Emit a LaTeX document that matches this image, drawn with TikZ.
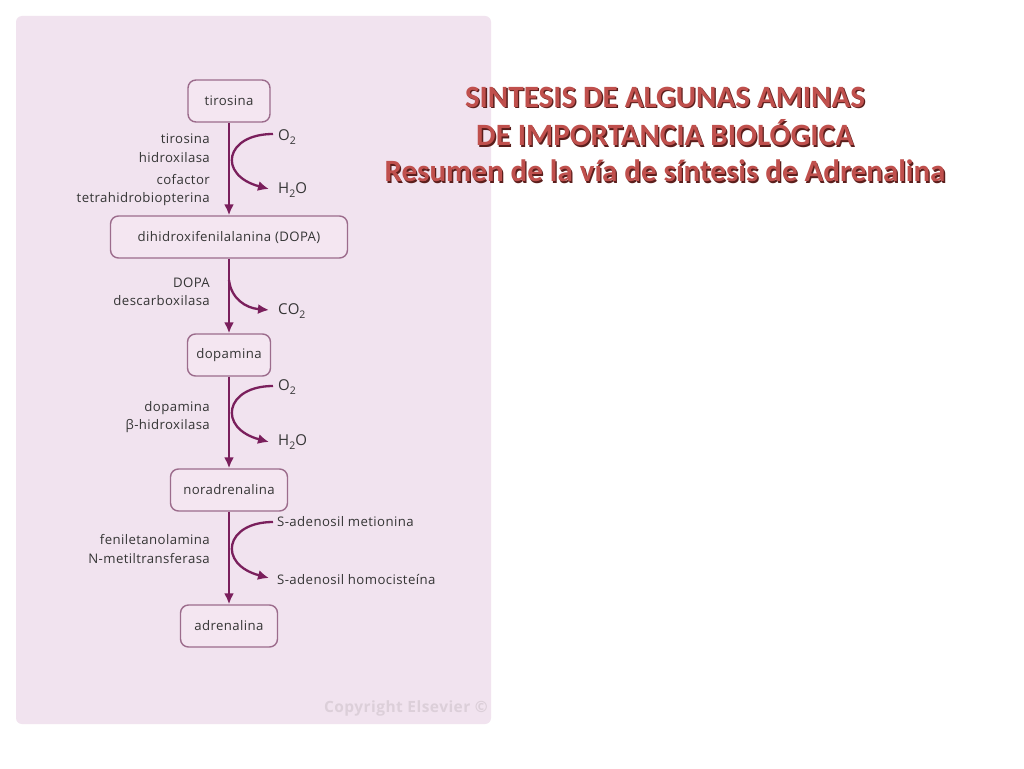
\documentclass[tikz,border=0pt]{standalone}
\usepackage{fontspec}
\setmainfont{Open Sans}[LetterSpace=3]
\newfontfamily\titlefont{Carlito}
\usetikzlibrary{arrows.meta}
\newcommand\chemsub[1]{\raisebox{-0.4ex}{\fontsize{10.5}{11}\selectfont #1}}
\definecolor{panel}{HTML}{F1E3EF}
\definecolor{boxfill}{HTML}{F4E6F1}
\definecolor{boxline}{HTML}{9C6C8C}
\definecolor{arrowc}{HTML}{7A1F5C}
\definecolor{txt}{HTML}{353535}
\definecolor{titlered}{HTML}{C0504D}
\definecolor{titleshadow}{HTML}{5A1E1C}
\definecolor{copyc}{HTML}{DCCFD9}
\tikzset{
  compound/.style={draw=boxline, fill=boxfill, line width=1.4pt, rounded corners=8pt,
    minimum height=42pt, inner xsep=8pt, text=txt, font=\fontsize{13.2}{16}\selectfont},
  enzyme/.style={anchor=east, align=right, text=txt, inner sep=0pt, font=\fontsize{13.2}{18.5}\selectfont},
  side/.style={anchor=west, text=txt, inner sep=0pt, font=\fontsize{13.2}{16}\selectfont},
  formula/.style={anchor=west, text=txt, inner sep=0pt, font=\fontsize{15}{18}\selectfont},
  mainarrow/.style={draw=arrowc, line width=2.3pt, -{Latex[length=11pt,width=10pt]}},
  sidearrow/.style={draw=arrowc, line width=2.3pt, -{Latex[length=11pt,width=10pt]}},
  titletxt/.style={font=\titlefont\bfseries\fontsize{31}{36}\selectfont, inner sep=0pt},
}
\begin{document}
\begin{tikzpicture}[x=1pt,y=-1pt]
\useasboundingbox (0,0) rectangle (1024,768);
\fill[white] (0,0) rectangle (1024,768);
\fill[panel, rounded corners=6pt] (16,16) rectangle (491,724);

% compounds
\node[compound, minimum width=82pt] (tir) at (229,101) {tirosina};
\node[compound, minimum width=237pt] (dopa) at (229,237) {dihidroxifenilalanina (DOPA)};
\node[compound, minimum width=83pt] (dopam) at (229,355) {dopamina};
\node[compound, minimum width=117pt] (nor) at (229,490) {noradrenalina};
\node[compound, minimum width=97pt] (adr) at (229,626) {adrenalina};

% main arrows
\draw[mainarrow] (tir) -- (dopa);
\draw[mainarrow] (dopa) -- (dopam);
\draw[mainarrow] (dopam) -- (nor);
\draw[mainarrow] (nor) -- (adr);

% step 1
\node[enzyme] (e1) at (210,148) {tirosina\\hidroxilasa};
\node[enzyme] (e1b) at (210,190) {cofactor\\tetrahidrobiopterina};
\node[formula] (o2a) at (278,137) {O\chemsub{2}};
\node[formula] (h2oa) at (278,190) {H\chemsub{2}O};
\coordinate (s1) at (273,134);
\coordinate (t1) at (269,189);
\draw[sidearrow] (s1) .. controls +(-48,0) and +(-52,-14) .. (t1);

% step 2
\node[enzyme] (e2) at (210,292) {DOPA\\descarboxilasa};
\node[formula] (co2) at (278,311) {CO\chemsub{2}};
\coordinate (s2) at (229,280);
\coordinate (t2) at (269,310);
\draw[sidearrow] (s2) .. controls +(2,18) and +(-24,-2) .. (t2);

% step 3
\node[enzyme] (e3) at (210,417) {dopamina\\β-hidroxilasa};
\node[formula] (o2b) at (278,387) {O\chemsub{2}};
\node[formula] (h2ob) at (278,442) {H\chemsub{2}O};
\coordinate (s3) at (273,386);
\coordinate (t3) at (269,442);
\draw[sidearrow] (s3) .. controls +(-48,0) and +(-52,-14) .. (t3);

% step 4
\node[enzyme] (e4) at (210,549) {feniletanolamina\\N-metiltransferasa};
\node[side] (sam) at (277,522) {S-adenosil metionina};
\node[side] (sah) at (277,579) {S-adenosil homocisteína};
\coordinate (s4) at (273,522);
\coordinate (t4) at (269,578);
\draw[sidearrow] (s4) .. controls +(-48,0) and +(-52,-14) .. (t4);

% copyright
\node[text=copyc, font=\bfseries\fontsize{15.5}{18}\selectfont, anchor=east, inner sep=0pt] (copy) at (488,708) {Copyright Elsevier ©};

% title
\foreach \y/\t [count=\i] in {97/{SINTESIS DE ALGUNAS AMINAS}, 133/{DE IMPORTANCIA BIOLÓGICA}, 171/{Resumen de la vía de síntesis de Adrenalina}} {
  \node[titletxt, text=titleshadow] (sh\i) at (666.3,\y+1.3) {\t};
  \node[titletxt, text=titlered] (ti\i) at (665,\y) {\t};
}
\end{tikzpicture}
\end{document}
